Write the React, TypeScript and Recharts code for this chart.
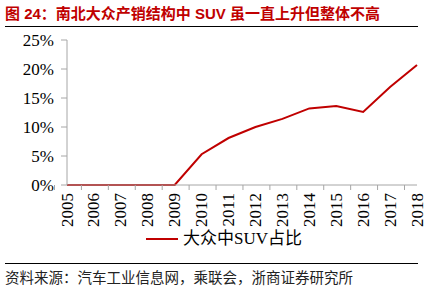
import React from "react";
import { LineChart, Line, XAxis, YAxis, Legend } from "recharts";

const years = ["2005", "2006", "2007", "2008", "2009", "2010", "2011", "2012", "2013", "2014", "2015", "2016", "2017", "2018"];
const suvShare = [0, 0, 0, 0, 0, 5.3, 8.1, 10.0, 11.4, 13.2, 13.6, 12.6, 16.9, 20.7];
const yTicks = [0, 5, 10, 15, 20, 25];
const seriesName = "大众中SUV占比";
const title = "图 24：南北大众产销结构中 SUV 虽一直上升但整体不高";
const source = "资料来源：汽车工业信息网，乘联会，浙商证券研究所";

const data = years.map((y, i) => ({ year: y, value: suvShare[i] }));

const W = 426;
const H = 291;
const X_H = 30;
const M = { top: 40, right: 9, bottom: 106 - X_H, left: 0 };
const Y_W = 67;
const PLOT_W = W - M.left - M.right - Y_W;
const BAND = PLOT_W / years.length;
const RED = "#c00000";
const AXIS = "#a6a6a6";
const SERIF = "'Liberation Serif', 'Times New Roman', serif";

const XTick = (props: any) => {
  const { x, y, payload, index } = props;
  const axisY = y - 8;
  return (
    <g>
      <line x1={x - BAND / 2} x2={x - BAND / 2} y1={axisY} y2={axisY + 5} stroke={AXIS} strokeWidth={1} />
      {index === years.length - 1 && (
        <line x1={x + BAND / 2} x2={x + BAND / 2} y1={axisY} y2={axisY + 5} stroke={AXIS} strokeWidth={1} />
      )}
      <text
        x={x}
        y={y}
        transform={`rotate(-90, ${x}, ${y})`}
        textAnchor="end"
        dominantBaseline="central"
        fontFamily={SERIF}
        fontSize={17}
        fill="#000"
      >
        {payload.value}
      </text>
    </g>
  );
};

const LegendContent = () => (
  <div style={{ display: "flex", alignItems: "center" }}>
    <svg width={32} height={4} style={{ marginRight: 5 }}>
      <line x1={0} x2={32} y1={2} y2={2} stroke={RED} strokeWidth={2} />
    </svg>
    <span style={{ fontFamily: "'Liberation Serif', 'Noto Sans CJK SC', serif", fontSize: 17, color: "#000", lineHeight: "20px" }}>
      {seriesName}
    </span>
  </div>
);

export default function App() {
  return (
    <div style={{ position: "absolute", left: 0, top: 0, width: W, height: H, background: "#fff" }}>
      <LineChart width={W} height={H} data={data} margin={M}>
        <XAxis
          dataKey="year"
          height={X_H}
          interval={0}
          stroke={AXIS}
          tickLine={false}
          tickSize={5}
          tickMargin={3}
          tick={<XTick />}
          axisLine={{ stroke: AXIS }}
        />
        <YAxis
          width={Y_W}
          domain={[0, 25]}
          ticks={yTicks}
          interval={0}
          tickFormatter={(v: number) => `${v}%`}
          stroke={AXIS}
          tickSize={6}
          tickMargin={7}
          tick={{ fill: "#000", fontSize: 17, fontFamily: SERIF }}
        />
        <Legend
          layout="horizontal"
          verticalAlign="middle"
          align="center"
          content={<LegendContent />}
          wrapperStyle={{ position: "absolute", left: 146, top: 229, width: "auto" }}
        />
        <Line
          type="linear"
          dataKey="value"
          name={seriesName}
          stroke={RED}
          strokeWidth={2}
          dot={false}
          isAnimationActive={false}
        />
      </LineChart>
      <div
        style={{
          position: "absolute",
          left: 5,
          top: 4,
          fontFamily: "'Liberation Sans', 'Noto Sans CJK SC', sans-serif",
          fontWeight: "bold",
          fontSize: 15,
          color: RED,
          whiteSpace: "nowrap",
          lineHeight: "20px",
        }}
      >
        {title}
      </div>
      <div style={{ position: "absolute", left: 5, top: 26, width: 413, height: 0, borderTop: "1.5px solid #000" }} />
      <div style={{ position: "absolute", left: 5, top: 263, width: 413, height: 0, borderTop: "1.5px solid #000" }} />
      <div
        style={{
          position: "absolute",
          left: 5,
          top: 268,
          fontFamily: "'Noto Sans CJK SC', sans-serif",
          fontSize: 14.5,
          color: "#222",
          whiteSpace: "nowrap",
          lineHeight: "18px",
        }}
      >
        {source}
      </div>
    </div>
  );
}
